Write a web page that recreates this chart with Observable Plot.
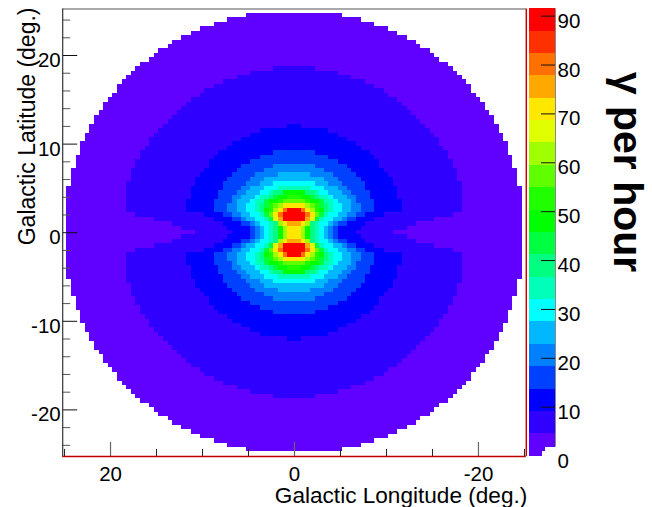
<!DOCTYPE html>
<html><head><meta charset="utf-8">
<script src="https://cdn.jsdelivr.net/npm/d3@7"></script>
<script src="https://cdn.jsdelivr.net/npm/@observablehq/plot@0.6"></script>
<style>
html,body{margin:0;padding:0;background:#fff;overflow:hidden}
#wrap{position:relative;width:652px;height:507px;overflow:hidden}
#wrap svg{position:absolute;left:0;top:0;background:transparent}
</style></head><body><div id="wrap"></div>
<script>
// Half-width of each contour band per latitude row: [row, half width], both in 0.5 deg bins.
const binDeg = 0.5;
const band0 = [[0,49],[1,49],[2,49],[3,49],[4,49],[5,49],[6,49],[7,49],[8,49],[9,49],[10,49],[11,48],[12,48],[13,48],[14,48],[15,47],[16,47],[17,47],[18,46],[19,46],[20,46],[21,45],[22,45],[23,44],[24,44],[25,43],[26,43],[27,42],[28,41],[29,41],[30,40],[31,39],[32,38],[33,38],[34,37],[35,36],[36,35],[37,34],[38,33],[39,31],[40,30],[41,29],[42,27],[43,26],[44,24],[45,22],[46,20],[47,17],[48,14],[49,10]];
const band1 = [[0,21],[1,24],[2,26],[3,30],[4,34],[5,36],[6,36],[7,36],[8,36],[9,36],[10,36],[11,36],[12,35],[13,35],[14,35],[15,34],[16,34],[17,33],[18,33],[19,32],[20,31],[21,31],[22,30],[23,29],[24,28],[25,27],[26,26],[27,25],[28,24],[29,23],[30,22],[31,20],[32,19],[33,17],[34,15],[35,12],[36,9],[37,4]];
const band2 = [[0,13],[1,14],[2,15],[3,17],[4,19],[5,23],[6,23],[7,23],[8,22],[9,22],[10,22],[11,21],[12,21],[13,20],[14,19],[15,18],[16,18],[17,17],[18,16],[19,14],[20,13],[21,11],[22,9],[23,7],[24,1]];
const band3 = [[0,9],[1,9],[2,11],[3,13],[4,15],[5,17],[6,17],[7,17],[8,16],[9,16],[10,15],[11,15],[12,14],[13,13],[14,12],[15,11],[16,9],[17,7],[18,4]];
const band4 = [[0,8],[1,8],[2,9],[3,11],[4,13],[5,14],[6,14],[7,13],[8,13],[9,12],[10,11],[11,10],[12,9],[13,8],[14,6],[15,4]];
const band5 = [[0,7],[1,7],[2,8],[3,10],[4,11],[5,12],[6,12],[7,12],[8,11],[9,10],[10,9],[11,7],[12,6],[13,3]];
const band6 = [[0,6],[1,6],[2,7],[3,8],[4,9],[5,10],[6,10],[7,9],[8,8],[9,7],[10,6],[11,4]];
const band7 = [[0,5],[1,5],[2,5],[3,6],[4,7],[5,8],[6,8],[7,8],[8,7],[9,5],[10,3]];
const band8 = [[0,4],[1,4],[2,4],[3,5],[4,6],[5,7],[6,7],[7,6],[8,5],[9,4]];
const band9 = [[0,3],[1,3],[2,3],[3,5],[4,6],[5,6],[6,6],[7,6],[8,4],[9,2]];
const band10 = [[0,3],[1,3],[2,3],[3,4],[4,5],[5,6],[6,5],[7,5],[8,3],[9,2]];
const band11 = [[0,2],[1,2],[2,3],[3,4],[4,5],[5,5],[6,5],[7,3],[8,1]];
const band12 = [[0,2],[1,2],[2,3],[3,4],[4,5],[5,4],[6,4],[7,2]];
const band13 = [[0,2],[1,2],[2,3],[3,4],[4,4],[5,4],[6,3]];
const band14 = [[0,1],[1,1],[2,2],[3,4],[4,4],[5,3],[6,2]];
const band15 = [[0,1],[1,1],[2,2],[3,3],[4,4],[5,3],[6,2]];
const band16 = [[2,1],[3,3],[4,3],[5,2]];
const band17 = [[3,2],[4,3],[5,2]];
const band18 = [[3,2],[4,2],[5,1]];
const band19 = [[3,2],[4,2],[5,1]];
const bands = [band0,band1,band2,band3,band4,band5,band6,band7,band8,band9,band10,band11,band12,band13,band14,band15,band16,band17,band18,band19];

const bandColors = ["#6000ff","#3000ff","#0000ff","#0040ff","#0080ff","#00b8ff","#00ffff","#00ffb8","#00ff80","#00ff40","#00ff00","#20ff00","#60ff00","#a0ff00","#e0ff00","#ffe800","#ffa800","#ff7000","#ff3000","#ff0000"];
const colorMax = 91.5;
const colorTicks = [0,10,20,30,40,50,60,70,80,90];
const xMajor = [20,0,-20];
const xMinor = [25,15,10,5,-5,-10,-15,-25];
const yMajor = [20,10,0,-10,-20];
const yMinor = [24,22,18,16,14,12,8,6,4,2,-2,-4,-6,-8,-12,-14,-16,-18,-22,-24];

const cells = [];
bands.forEach((b,level)=>{
  for(const [row,hw] of b){
    for(const s of row===0?[1]:[1,-1]){
      cells.push({level,x1:-(hw+0.5)*binDeg,x2:(hw+0.5)*binDeg,y1:s*(row-0.5)*binDeg,y2:s*(row+0.5)*binDeg});
    }
  }
});
const FONT = "'Liberation Sans',Arial,sans-serif";
const W=652,H=507;
const L=25.2,B=-25.26,T=25.25;
const main = Plot.plot({
  width:W,height:H,margin:0,
  style:{background:"transparent",fontFamily:FONT},
  x:{domain:[L,-L],range:[62.2,525.8],axis:null},
  y:{domain:[B,T],range:[456,8.5],axis:null},
  color:{type:"ordinal",domain:d3.range(20),range:bandColors},
  marks:[
    Plot.rect(cells,{x1:"x1",x2:"x2",y1:"y1",y2:"y2",fill:"level",shapeRendering:"crispEdges"}),
    Plot.ruleX(xMinor,{x:d=>d,y1:B,y2:B+0.8,stroke:"#222",strokeWidth:1}),
    Plot.ruleX(xMajor,{x:d=>d,y1:B,y2:B+1.58,stroke:"#666",strokeWidth:1.2}),
    Plot.ruleY(yMinor,{y:d=>d,x1:L,x2:L-0.87,stroke:"#555",strokeWidth:1}),
    Plot.ruleY(yMajor,{y:d=>d,x1:L,x2:L-1.63,stroke:"#111",strokeWidth:1}),
    Plot.ruleX([L],{y1:B,y2:T,stroke:"#333",strokeWidth:1.2}),
    Plot.ruleY([T],{x1:L,x2:-L,stroke:"#555",strokeWidth:1.2}),
    Plot.ruleX([-L],{y1:B,y2:T,stroke:"#d00000",strokeWidth:1.5}),
    Plot.ruleY([B],{x1:L,x2:-L,stroke:"#c00000",strokeWidth:1.5}),
    Plot.text(yMajor,{x:L,y:d=>d,text:d=>String(d),textAnchor:"end",dx:-2,dy:5,fontSize:20.5,fill:"#000"}),
    Plot.text(xMajor,{x:d=>d,y:B,text:d=>String(d),dy:18,fontSize:20.5,fill:"#000"}),
    Plot.text(["Galactic Longitude (deg.)"],{x:-L,y:B,text:d=>d,textAnchor:"end",dx:1,dy:39,fontSize:22.6,fill:"#000"}),
    Plot.text(["Galactic Latitude (deg.)"],{x:L,y:T,text:d=>d,textAnchor:"end",rotate:-90,dx:-35,dy:-1.5,fontSize:23,fill:"#000"})
  ]
});
const bandStep = colorMax/bandColors.length;
const barData = bandColors.map((c,i)=>({i,y1:i*bandStep,y2:(i+1)*bandStep}));
const bar = Plot.plot({
  width:W,height:H,margin:0,
  style:{background:"transparent",fontFamily:FONT},
  x:{domain:[0,1],range:[529,555],axis:null},
  y:{domain:[0,colorMax],range:[455.6,8.3],axis:null},
  color:{type:"ordinal",domain:d3.range(20),range:bandColors},
  marks:[
    Plot.rect(barData,{x1:0,x2:1,y1:"y1",y2:"y2",fill:"i",shapeRendering:"crispEdges"}),
    Plot.rect([{x1:0.49,y2:0.9},{x1:0.62,y2:1.8}],{x1:"x1",x2:1.02,y1:-0.2,y2:"y2",fill:"#fff",shapeRendering:"crispEdges"}),
    Plot.ruleY(colorTicks.slice(1),{y:d=>d,x1:0.46,x2:1,stroke:"#111",strokeWidth:1}),
    Plot.ruleX([1],{y1:1.8,y2:colorMax,stroke:"#888",strokeWidth:1}),
    Plot.text(colorTicks,{x:1,y:d=>d,text:d=>String(d),textAnchor:"start",dx:2,dy:5,fontSize:20.5,fill:"#000"}),
    Plot.text(["\u03b3 per hour"],{x:1,y:colorMax,text:d=>d,textAnchor:"start",rotate:90,dx:72,dy:63,fontSize:41,fontWeight:"bold",fill:"#000"})
  ]
});
document.getElementById("wrap").append(main,bar);
</script></body></html>
